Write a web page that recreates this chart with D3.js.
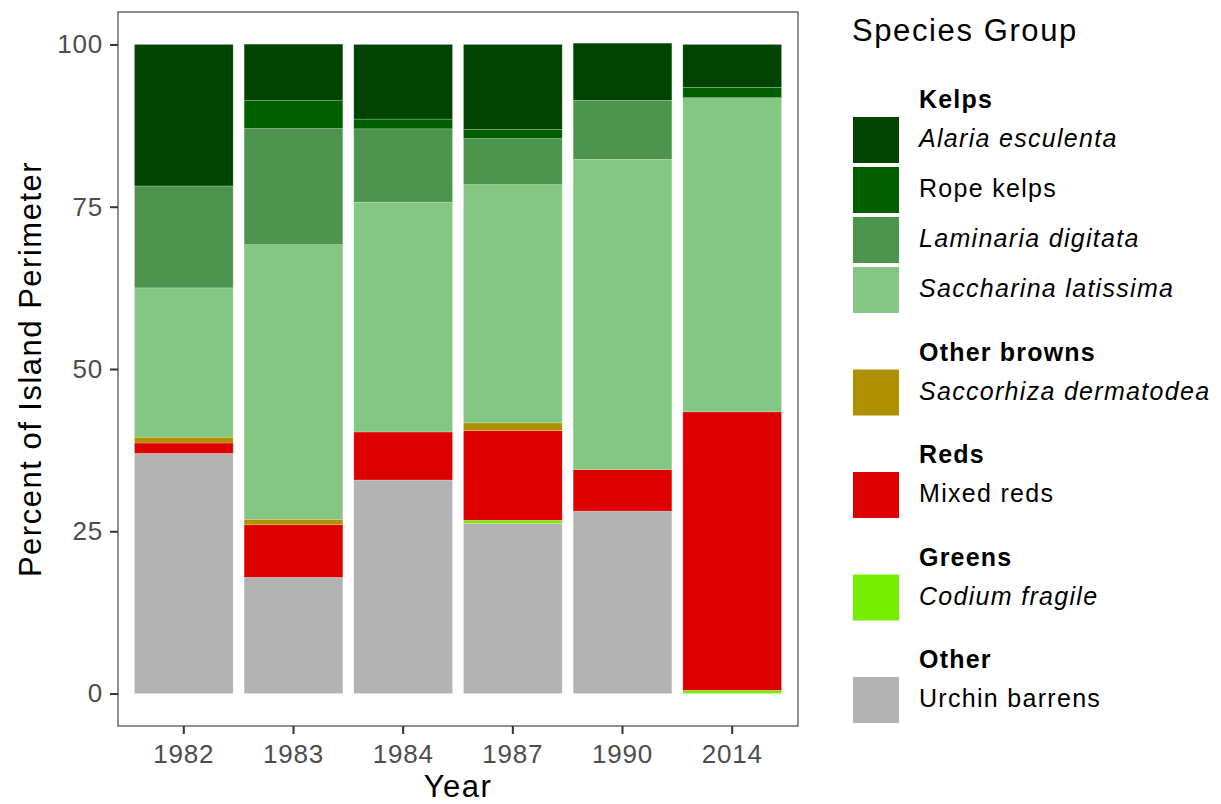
<!DOCTYPE html>
<html>
<head>
<meta charset="utf-8">
<script src="https://cdn.jsdelivr.net/npm/d3@7"></script>
<style>
  body { margin: 0; background: #fff; }
  text { font-family: "Liberation Sans", Arial, sans-serif; }
</style>
</head>
<body>
<svg></svg>
<script>
// years on the x axis
var years = ["1982", "1983", "1984", "1987", "1990", "2014"]

// percent of island perimeter, one array per species (same order as years)
var urchinBarrens = [37.0, 17.9, 32.9, 26.2, 28.1, 0]
var codiumFragile = [0, 0, 0, 0.5, 0, 0.5]
var mixedReds = [1.6, 8.1, 7.4, 13.8, 6.4, 42.9]
var saccorhiza = [0.9, 0.85, 0, 1.2, 0, 0]
var saccharina = [23.0, 42.3, 35.4, 36.7, 47.8, 48.4]
var laminaria = [15.7, 17.9, 11.3, 7.1, 9.1, 0]
var ropeKelps = [0, 4.3, 1.5, 1.4, 0, 1.6]
var alaria = [21.8, 8.7, 11.5, 13.1, 8.8, 6.6]

var yTicks = [0, 25, 50, 75, 100]

// stacking order, bottom to top
var species = ["Urchin barrens", "Codium fragile", "Mixed reds", "Saccorhiza dermatodea",
               "Saccharina latissima", "Laminaria digitata", "Rope kelps", "Alaria esculenta"]
var seriesValues = [urchinBarrens, codiumFragile, mixedReds, saccorhiza,
                    saccharina, laminaria, ropeKelps, alaria]
var colors = ["#b3b3b3", "#76ee00", "#dd0000", "#b09000",
              "#83c783", "#4d954d", "#006000", "#014401"]

// legend groups
var legendGroups = [
  {title: "Kelps", items: ["Alaria esculenta", "Rope kelps", "Laminaria digitata", "Saccharina latissima"]},
  {title: "Other browns", items: ["Saccorhiza dermatodea"]},
  {title: "Reds", items: ["Mixed reds"]},
  {title: "Greens", items: ["Codium fragile"]},
  {title: "Other", items: ["Urchin barrens"]}
]
var italic = ["Alaria esculenta", "Laminaria digitata", "Saccharina latissima",
              "Saccorhiza dermatodea", "Codium fragile"]

function main(){
  var width = 1221, height = 804
  var svg = d3.select("svg").attr("width", width).attr("height", height)

  var rows = years.map(function(y, i) {
    var r = {year: y}
    species.forEach(function(s, j) { r[s] = seriesValues[j][i] })
    return r
  })
  var stacked = d3.stack().keys(species)(rows)
  var color = d3.scaleOrdinal().domain(species).range(colors)

  var pLeft = 118, pRight = 798, pTop = 12, pBottom = 726
  var xScale = d3.scaleBand().domain(years).range([pLeft, pRight])
                  .paddingInner(0.1).paddingOuter(0.15)
  var yScale = d3.scaleLinear().domain([-5, 105]).range([pBottom, pTop])

  svg.append("g")
    .selectAll("g")
    .data(stacked)
    .join("g")
    .style("fill", d => color(d.key))
    .selectAll("rect")
    .data(d => d.filter(p => p[1] - p[0] > 0))
    .join("rect")
    .attr("x", d => xScale(d.data.year))
    .attr("width", xScale.bandwidth())
    .attr("y", d => yScale(d[1]))
    .attr("height", d => yScale(d[0]) - yScale(d[1]))
    .attr("stroke", "#ffffff")
    .attr("stroke-opacity", 0.35)
    .attr("stroke-width", 0.6)

  // panel border
  svg.append("rect")
    .attr("x", pLeft).attr("y", pTop)
    .attr("width", pRight - pLeft).attr("height", pBottom - pTop)
    .attr("fill", "none").attr("stroke", "#333333").attr("stroke-width", 1.1)

  var yAxis = d3.axisLeft(yScale).tickValues(yTicks).tickSize(8).tickPadding(7)
  var gy = svg.append("g").attr("transform", "translate(" + pLeft + ",0)").call(yAxis)
  var xAxis = d3.axisBottom(xScale).tickSize(8).tickPadding(5)
  var gx = svg.append("g").attr("transform", "translate(0," + pBottom + ")").call(xAxis)

  svg.selectAll(".domain").remove()
  svg.selectAll(".tick line").attr("stroke", "#333333").attr("stroke-width", 2)
  svg.selectAll(".tick text").attr("fill", "#4d4d4d").style("font-size", "26px")
    .style("letter-spacing", "0.8px")
    .style("font-family", "Liberation Sans, Arial, sans-serif")
  gx.selectAll(".tick text").attr("dy", "0.93em")

  // axis titles
  svg.append("text")
    .attr("x", (pLeft + pRight) / 2).attr("y", 797)
    .attr("text-anchor", "middle").style("font-size", "31px")
    .style("letter-spacing", "1.5px").text("Year")
  svg.append("text")
    .attr("transform", "translate(41," + (pTop + pBottom) / 2 + ") rotate(-90)")
    .attr("text-anchor", "middle").style("font-size", "31px")
    .style("letter-spacing", "1.5px").text("Percent of Island Perimeter")

  // legend
  var legend = svg.append("g")
  legend.append("text").attr("x", 852).attr("y", 41)
    .style("font-size", "31px").style("letter-spacing", "1.6px").text("Species Group")

  var ly = 108
  legendGroups.forEach(function(g) {
    legend.append("text").attr("x", 919).attr("y", ly)
      .style("font-size", "25px").style("font-weight", "bold")
      .style("letter-spacing", "1.2px").text(g.title)
    var keyTop = ly + 9
    g.items.forEach(function(item, k) {
      var ky = keyTop + k * 50
      legend.append("rect")
        .attr("x", 853).attr("y", ky).attr("width", 46).attr("height", 46)
        .attr("fill", color(item))
      legend.append("text").attr("x", 919).attr("y", ky + 30)
        .style("font-size", "25px").style("letter-spacing", "1.3px")
        .style("font-style", italic.indexOf(item) >= 0 ? "italic" : "normal")
        .text(item)
    })
    ly = keyTop + g.items.length * 50 - 4 + 47.5
  })
}
main()
</script>
</body>
</html>
